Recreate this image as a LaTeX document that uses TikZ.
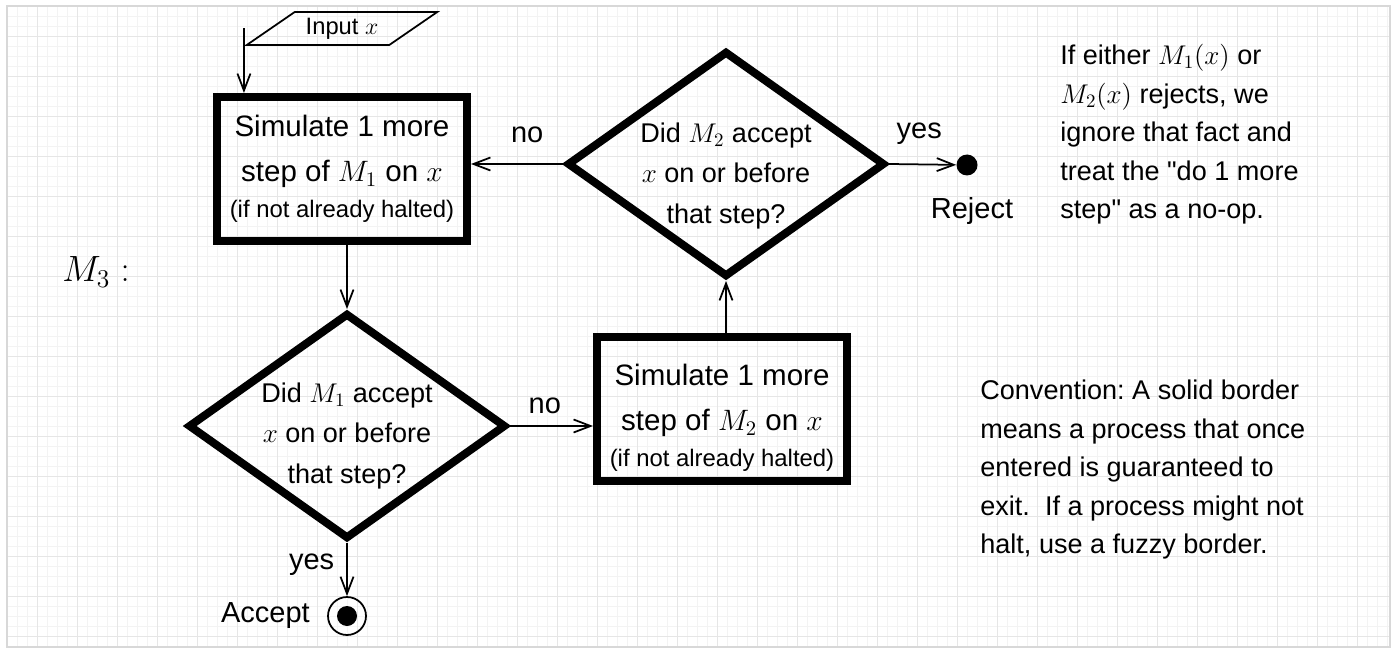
\documentclass[tikz,border=0pt]{standalone}
\usepackage{fix-cm}
\usepackage[no-math]{fontspec}
\setmainfont{Liberation Sans}
\usetikzlibrary{positioning,shapes.geometric,arrows.meta}

\definecolor{gridminor}{HTML}{F3F3F3}
\definecolor{gridmajor}{HTML}{E6E6E6}
\definecolor{framegray}{HTML}{D8D8D8}
\newcommand{\smalltxt}{\fontsize{13.6}{16}\selectfont}

\begin{document}
\begin{tikzpicture}[
    x=0.02cm, y=-0.02cm,
    txt/.style={align=center, inner sep=0pt,
        font=\fontsize{16.8}{25.6}\selectfont},
    dtxt/.style={txt, font=\fontsize{15.4}{22.8}\selectfont},
    lbl/.style={inner sep=0pt, font=\fontsize{16.5}{19}\selectfont},
    note/.style={align=left, inner sep=0pt, anchor=north west,
        font=\fontsize{15.4}{21.9}\selectfont\frenchspacing},
    stepbox/.style={draw, line width=0.16cm, minimum width=5cm,
        minimum height=2.88cm, inner sep=0pt},
    decision/.style={diamond, draw, line width=0.16cm, minimum width=6.36cm,
        minimum height=4.52cm, inner sep=0pt},
    inbox/.style={trapezium, trapezium left angle=30, trapezium right angle=150,
        trapezium stretches, draw, line width=0.035cm, minimum width=3.82cm,
        minimum height=0.66cm, inner sep=0pt, font=\fontsize{13.5}{15}\selectfont},
    rejectdot/.style={circle, fill, minimum size=0.42cm, inner sep=0pt},
    acceptdot/.style={circle, draw, line width=0.035cm, minimum size=0.76cm,
        inner sep=0pt,
        path picture={\fill (path picture bounding box.center) circle (0.2cm);}},
    arrow/.style={-{Straight Barb[length=0.34cm, width=0.26cm]}, line width=0.035cm}
]
\useasboundingbox (0,0) rectangle (1391,648);

% background grid
\begin{scope}
  \clip (7,6) rectangle (1391,648);
  \begin{scope}[shift={(-2,-3)}]
    \draw[gridminor, line width=0.02cm, step=0.2cm] (0,660) grid (1400,0);
    \draw[gridmajor, line width=0.02cm, step=0.8cm] (0,660) grid (1400,0);
  \end{scope}
\end{scope}
\draw[framegray, line width=0.03cm] (7,6) rectangle (1390,647);

% flow
\node[inbox] (input) at (342,28.5) {Input $x$};
\node[stepbox] (sim1) at (342,169) {};
\node[decision] (dec1) at (347,426) {};
\node[stepbox] (sim2) at (722,409) {};
\node[decision] (dec2) at (726,164) {};
\node[rejectdot] (reject) at (967,165) {};
\node[acceptdot] (accept) at (347,616) {};

\node[txt] (sim1txt) at (sim1) {Simulate 1 more\\ step of $M_1$ on $x$\\[-5.1pt] {\smalltxt (if not already halted)}};
\node[yshift=-0.18cm, txt] (sim2txt) at (sim2) {Simulate 1 more\\ step of $M_2$ on $x$\\[-5.1pt] {\smalltxt (if not already halted)}};
\node[yshift=-0.2cm, dtxt] (dec1txt) at (dec1) {Did $M_1$ accept\\ $x$ on or before\\ that step?};
\node[yshift=-0.24cm, dtxt] (dec2txt) at (dec2) {Did $M_2$ accept\\ $x$ on or before\\ that step?};

\draw[arrow] (input.bottom left corner |- input.center) -- (input.bottom left corner |- sim1.north);
\draw[arrow] (dec1.north |- sim1.south) -- (dec1.north);
\draw[arrow] (dec1.east) -- node[above=0.22cm, pos=0.42, lbl] (no1) {no} (dec1.east -| sim2.west);
\draw[arrow] (dec2.south |- sim2.north) -- (dec2.south);
\draw[arrow] (dec2.west) -- node[above=0.4cm, pos=0.39, lbl] (no2) {no} (dec2.west -| sim1.east);
\draw[arrow] (dec2.east) -- node[above=0.38cm, pos=0.45, lbl] (yes2) {yes} (reject);
\draw[arrow] (dec1.south) -- node[left=0.24cm, pos=0.4, lbl] (yes1) {yes} (accept);

\node[below=0.42cm of reject, xshift=0.1cm, lbl] (rejlbl) {Reject};
\node[left=0.34cm of accept, lbl] (acclbl) {Accept};
\node[font=\fontsize{20.8}{23}\selectfont] (mthree) at (96,272) {$M_3:$};

% side notes
\node[note] (ignorenote) at (1060,44) {If either $M_1(x)$ or\\ $M_2(x)$ rejects, we\\ ignore that fact and\\ treat the \textquotedbl do 1 more\\ step\textquotedbl\ as a no-op.};
\node[note] (convnote) at (980,380) {Convention: A solid border\\ means a process that once\\ entered is guaranteed to\\ exit.\ \ If a process might not\\ halt, use a fuzzy border.};
\end{tikzpicture}
\end{document}
